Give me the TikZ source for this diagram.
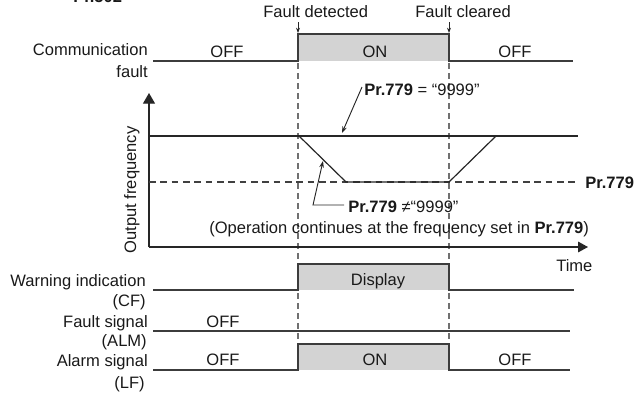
\documentclass[tikz,border=0pt]{standalone}
\usepackage{fontspec}
\setmainfont{Liberation Sans}
\usetikzlibrary{arrows.meta}
\definecolor{boxgray}{HTML}{D3D3D3}
\definecolor{linegray}{HTML}{3C3C3C}
\definecolor{dashgray}{HTML}{707070}
\begin{document}
\begin{tikzpicture}[x=0.75pt,y=-0.75pt,
  every node/.style={font=\fontsize{12.4}{14}\selectfont, inner sep=0pt, text=black!90},
  sigline/.style={draw=linegray, line width=1.1pt},
  onfill/.style={fill=boxgray},
  guide/.style={draw=dashgray, line width=0.9pt, dash pattern=on 4.5pt off 3pt},
  freq/.style={draw=black!85, line width=0.9pt},
  refdash/.style={draw=black!75, line width=0.8pt, dash pattern=on 5pt off 3.5pt},
  leader/.style={draw=black!85, line width=0.7pt, -{Stealth[length=5pt,width=3.5pt]}},
  evarrow/.style={draw=black!85, line width=0.6pt, -{Stealth[length=4pt,width=3pt]}},
  lbl/.style={anchor=base east},
  mid/.style={anchor=base},
  lft/.style={anchor=base west}]
\clip (0,0) rectangle (635,393);
\useasboundingbox (0,0) rectangle (635,393);

% cut-off title (only its lower edge shows in the reference)
\node[lft] (title) at (73,2.5) {\textbf{Pr.502} =};

% event labels and arrows
\node[lft] (fdet) at (263,17) {Fault detected};
\node[lft] (fclr) at (415,17) {Fault cleared};
\coordinate (fdA) at (298,22); \coordinate (fdB) at (298,33);
\coordinate (fcA) at (449,22); \coordinate (fcB) at (449,33);
\draw[evarrow] (fdA) -- (fdB);
\draw[evarrow] (fcA) -- (fcB);

% gray ON boxes
\fill[onfill] (298,34) rectangle (449,61);
\fill[onfill] (298,264) rectangle (449,290);
\fill[onfill] (298,344) rectangle (449,370);

% guide dashed verticals
\coordinate (g1t) at (298,33); \coordinate (g1b) at (298,345);
\coordinate (g2t) at (449,33); \coordinate (g2b) at (449,345);
\draw[guide] (g1t) -- (g1b);
\draw[guide] (g2t) -- (g2b);

% communication fault
\node[lbl] (commA) at (148,55) {Communication};
\node[lbl] (commB) at (148,77) {fault};
\draw[sigline] (153,61) -- (298,61) -- (298,34) -- (449,34) -- (449,61) -- (573,61);
\node[mid] (c1) at (227,57) {OFF};
\node[mid] (c2) at (375,57) {ON};
\node[mid] (c3) at (515,57) {OFF};

% output frequency chart
\coordinate (org) at (149,247);
\coordinate (ytip) at (149,93);
\coordinate (xtip) at (588,247);
\draw[freq, -{Triangle[length=8pt,width=9pt]}] (org) -- (ytip);
\draw[freq, -{Triangle[length=7.5pt,width=8pt]}] (org) -- (xtip);
\node[rotate=90, anchor=base] (ylab) at (136,190) {Output frequency};
\node[lft] (tlab) at (556,271) {Time};

\draw[refdash] (149,182) -- (578,182);
\node[lft] (prr) at (585,188) {\textbf{Pr.779}};
\draw[freq] (149,136) -- (578,136);
\draw[freq] (299,136) -- (346,182) -- (449,182) -- (496,136);

\node[lft] (ann1) at (364,95) {\textbf{Pr.779} = “9999”};
\coordinate (a1s) at (362,87); \coordinate (a1e) at (342,133);
\draw[leader] (a1s) -- (a1e);

\node[lft] (ann2) at (348,212) {\textbf{Pr.779} ≠“9999”};
\coordinate (a2s) at (344,205); \coordinate (a2m) at (313,205); \coordinate (a2e) at (323,161);
\draw[leader] (a2s) -- (a2m) -- (a2e);

\node[lft] (ann3) at (209,233) {(Operation continues at the frequency set in \textbf{Pr.779})};

% warning indication
\node[lbl] (wA) at (146,286) {Warning indication};
\node[lbl] (wB) at (146,306) {(CF)};
\draw[sigline] (153,290) -- (298,290) -- (298,264) -- (449,264) -- (449,290) -- (574,290);
\node[mid] (w1) at (378,285) {Display};

% fault signal
\node[lbl] (fA) at (148,327) {Fault signal};
\node[lbl] (fB) at (147,346) {(ALM)};
\draw[sigline] (153,331) -- (570,331);
\node[mid] (f1) at (223,327) {OFF};

% alarm signal
\node[lbl] (lA) at (148,366) {Alarm signal};
\node[lbl] (lB) at (145,388) {(LF)};
\draw[sigline] (153,370) -- (298,370) -- (298,344) -- (449,344) -- (449,370) -- (570,370);
\node[mid] (l1) at (223,365) {OFF};
\node[mid] (l2) at (375,365) {ON};
\node[mid] (l3) at (515,365) {OFF};
\end{tikzpicture}
\end{document}
